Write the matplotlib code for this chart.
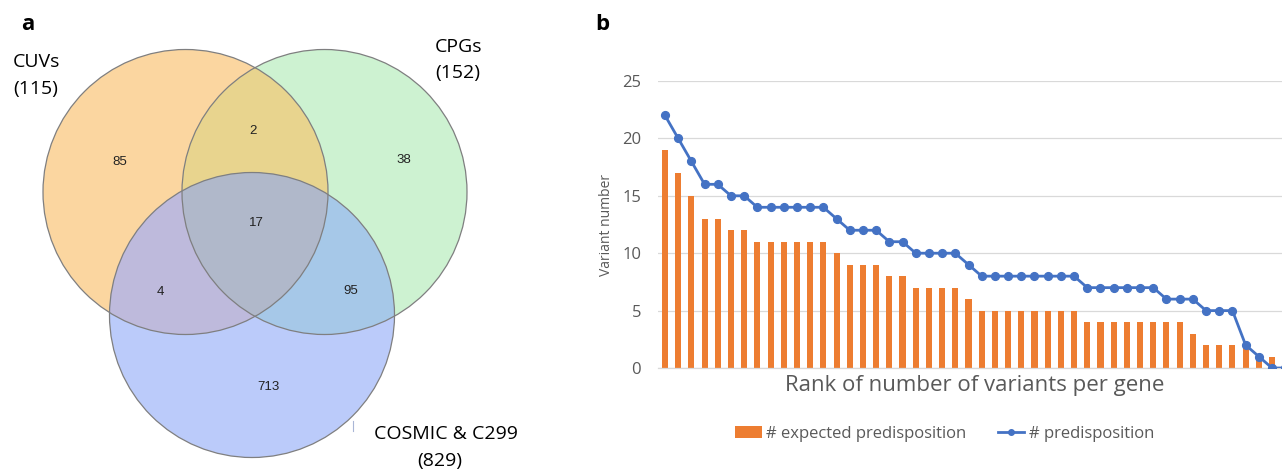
import numpy as np
import matplotlib
matplotlib.use("Agg")
import matplotlib.pyplot as plt
from matplotlib.patches import Circle, Polygon, Patch
from matplotlib.lines import Line2D

# ---- data -----------------------------------------------------------------
set_names = ["CUVs", "CPGs", "COSMIC & C299"]
set_totals = [115, 152, 829]
# region counts: only A, A&B, only B, A&B&C, A&C, B&C, only C
region_labels = ["A", "AB", "B", "ABC", "AC", "BC", "C"]
region_counts = [85, 2, 38, 17, 4, 95, 713]

expected_predisposition = [19, 17, 15, 13, 13, 12, 12, 11, 11, 11, 11, 11, 11, 10,
                           9, 9, 9, 8, 8, 7, 7, 7, 7, 6, 5, 5, 5, 5, 5, 5, 5, 5,
                           4, 4, 4, 4, 4, 4, 4, 4, 3, 2, 2, 2, 2, 1, 1, 1]
predisposition = [22, 20, 18, 16, 16, 15, 15, 14, 14, 14, 14, 14, 14, 13,
                  12, 12, 12, 11, 11, 10, 10, 10, 10, 9, 8, 8, 8, 8, 8, 8, 8, 8,
                  7, 7, 7, 7, 7, 7, 6, 6, 6, 5, 5, 5, 2, 1, 0, 0]
y_ticks = [0, 5, 10, 15, 20, 25]

W, H = 1282, 470
fig = plt.figure(figsize=(W / 100, H / 100), dpi=100)
FONT = "Open Sans"
GREY = "#595959"

# ---- panel a: three-set Venn diagram --------------------------------------
ax_v = fig.add_axes([0, 0, 600 / W, 1])
ax_v.set_xlim(0, 600)
ax_v.set_ylim(H, 0)
ax_v.axis("off")

R = 142.5
centers = {"A": (185.5, 192.0), "B": (324.5, 192.0), "C": (252.0, 315.0)}
fills = {"A": "#FBD6A0", "B": "#CDF2D1", "C": "#BBCBFA",
         "AB": "#E8D48E", "AC": "#BEBADC", "BC": "#A6C8E8", "ABC": "#B0B8CA"}

for k in ["A", "B", "C"]:
    ax_v.add_patch(Circle(centers[k], R, facecolor=fills[k], edgecolor="none", zorder=1))


def clipped(base, clip_patch, color):
    ax_v.add_patch(clip_patch)
    clip_patch.set_visible(False)
    p = Circle(centers[base], R, facecolor=color, edgecolor="none", zorder=2)
    ax_v.add_patch(p)
    p.set_clip_path(clip_patch)


clipped("B", Circle(centers["A"], R, transform=ax_v.transData), fills["AB"])
clipped("C", Circle(centers["A"], R, transform=ax_v.transData), fills["AC"])
clipped("C", Circle(centers["B"], R, transform=ax_v.transData), fills["BC"])

# lens of A and B, used to clip the triple overlap
t = np.linspace(0, 2 * np.pi, 1440, endpoint=False)
ax_, ay_ = centers["A"]
bx_, by_ = centers["B"]
pa = np.c_[ax_ + R * np.cos(t), ay_ + R * np.sin(t)]
pb = np.c_[bx_ + R * np.cos(t), by_ + R * np.sin(t)]
pa = pa[np.hypot(pa[:, 0] - bx_, pa[:, 1] - by_) <= R]
pb = pb[np.hypot(pb[:, 0] - ax_, pb[:, 1] - ay_) <= R]
lens = np.vstack([pa, pb])
cx, cy = lens.mean(axis=0)
lens = lens[np.argsort(np.arctan2(lens[:, 1] - cy, lens[:, 0] - cx))]
lens_patch = Polygon(lens, closed=True, transform=ax_v.transData)
ax_v.add_patch(lens_patch)
lens_patch.set_visible(False)
tri = Circle(centers["C"], R, facecolor=fills["ABC"], edgecolor="none", zorder=3)
ax_v.add_patch(tri)
tri.set_clip_path(lens_patch)

for k in ["A", "B", "C"]:
    ax_v.add_patch(Circle(centers[k], R, facecolor="none", edgecolor="#7F7F80",
                          lw=0.9, zorder=4))

count_pos = {"A": (120, 162), "AB": (253, 131), "B": (404, 160), "ABC": (256, 223),
             "AC": (160, 292), "BC": (351, 291), "C": (268, 387)}
for lab, n in zip(region_labels, region_counts):
    x, y = count_pos[lab]
    ax_v.text(x, y, str(n), ha="center", va="center", fontsize=9.5,
              family="Liberation Sans", color="#222222", zorder=5)

name_pos = [(13, 62, "left"), (435, 47, "left"), (446, 434, "center")]
total_pos = [(13, 89, "left"), (435, 73, "left"), (440, 461, "center")]
for name, tot, (x1, y1, h1), (x2, y2, h2) in zip(set_names, set_totals, name_pos, total_pos):
    ax_v.text(x1, y1, name, ha=h1, va="center", fontsize=14, family=FONT, color="black")
    ax_v.text(x2, y2, f"({tot})", ha=h2, va="center", fontsize=14, family=FONT, color="black")
ax_v.plot([353, 353], [421, 431], color="#A9B6D6", lw=0.8)

fig.text(21 / W, 1 - 24 / H, "a", fontsize=16, fontweight="bold", family=FONT,
         ha="left", va="center")
fig.text(595 / W, 1 - 24 / H, "b", fontsize=16, fontweight="bold", family=FONT,
         ha="left", va="center")

# ---- panel b: ranked bar + line chart --------------------------------------
n = len(predisposition)
step = 13.196
left_px, top_px, bottom_px = 658.4, 81.0, 368.0
ax = fig.add_axes([left_px / W, (H - bottom_px) / H, n * step / W, (bottom_px - top_px) / H])
x = np.arange(n)
ax.bar(x, expected_predisposition, width=0.46, color="#ED7D31", zorder=2)
ax.plot(x, predisposition, color="#4472C4", lw=2.0, marker="o", markersize=5.6,
        zorder=3, clip_on=True)
ax.set_xlim(-0.5, n - 0.5)
ax.set_ylim(0, 25)
ax.set_yticks(y_ticks)
ax.set_xticks([])
ax.grid(axis="y", color="#D9D9D9", lw=0.9, zorder=0)
for s in ["top", "right", "left"]:
    ax.spines[s].set_visible(False)
ax.spines["bottom"].set_color("#D9D9D9")
ax.spines["bottom"].set_linewidth(0.9)
ax.tick_params(axis="y", length=0, pad=12.5, labelsize=12, labelcolor=GREY)
for lbl in ax.get_yticklabels():
    lbl.set_family(FONT)

fig.text(607 / W, 1 - 225 / H, "Variant number", rotation=90, ha="center", va="center",
         fontsize=10, family=FONT, color=GREY)
fig.text(975 / W, 1 - 386 / H, "Rank of number of variants per gene", ha="center",
         va="center", fontsize=16, family=FONT, color=GREY)

handles = [Patch(facecolor="#ED7D31", edgecolor="none"),
           Line2D([], [], color="#4472C4", lw=2.0, marker="o", markersize=4)]
fig.legend(handles, ["# expected predisposition", "# predisposition"], ncol=2,
           loc="center", bbox_to_anchor=(944.5 / W, 1 - 434 / H), frameon=False,
           prop={"family": FONT, "size": 12}, labelcolor=GREY, handlelength=1.6,
           handletextpad=0.25, columnspacing=1.9)

fig.savefig("out.png", dpi=100)
